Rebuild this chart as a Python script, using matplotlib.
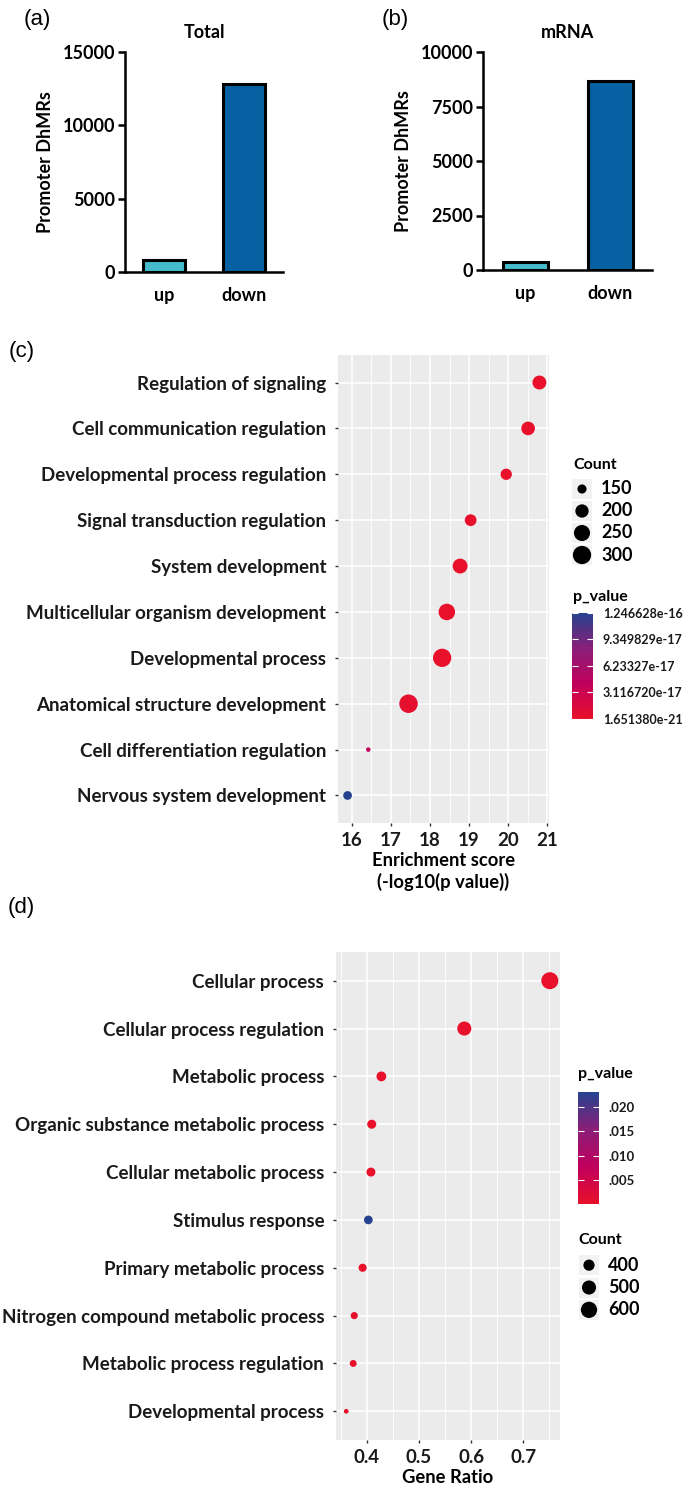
import matplotlib
matplotlib.use('Agg')
import matplotlib.pyplot as plt
import numpy as np
from matplotlib.colors import LinearSegmentedColormap, Normalize
from matplotlib.ticker import MultipleLocator

# ---- panels a/b data
bar_groups = ['up', 'down']
total_vals = [820, 12850]
mrna_vals = [370, 8650]

# ---- panel c data (GO terms by enrichment score)
c_terms = ['Regulation of signaling', 'Cell communication regulation',
           'Developmental process regulation', 'Signal transduction regulation',
           'System development', 'Multicellular organism development',
           'Developmental process', 'Anatomical structure development',
           'Cell differentiation regulation', 'Nervous system development']
c_score = [20.80, 20.51, 19.95, 19.04, 18.77, 18.43, 18.31, 17.45, 16.42, 15.89]
c_count = [210, 205, 172, 178, 227, 259, 300, 305, 131, 147]
c_pval = [1.651380e-21, 3.1e-21, 1.1e-20, 9.1e-20, 1.7e-19, 3.7e-19,
          4.9e-19, 3.5e-18, 3.8e-17, 1.246628e-16]
c_cbar_ticks = [1.651380e-21, 3.116720e-17, 6.23327e-17, 9.349829e-17, 1.246628e-16]
c_cbar_labels = ['1.651380e-21', '3.116720e-17', '6.23327e-17', '9.349829e-17', '1.246628e-16']
c_leg_counts = [150, 200, 250, 300]

# ---- panel d data (GO terms by gene ratio)
d_terms = ['Cellular process', 'Cellular process regulation', 'Metabolic process',
           'Organic substance metabolic process', 'Cellular metabolic process',
           'Stimulus response', 'Primary metabolic process',
           'Nitrogen compound metabolic process', 'Metabolic process regulation',
           'Developmental process']
d_ratio = [0.751, 0.587, 0.428, 0.4095, 0.408, 0.403, 0.392, 0.376, 0.374, 0.3606]
d_count = [638, 499, 364, 348, 347, 342, 333, 320, 318, 307]
d_pval = [1e-6, 2e-6, 5e-5, 8e-5, 9e-5, 0.0231, 1.2e-4, 2e-4, 2.5e-4, 3e-4]
d_cbar_ticks = [0.005, 0.010, 0.015, 0.020]
d_cbar_labels = ['.005', '.010', '.015', '.020']
d_leg_counts = [400, 500, 600]

plt.rcParams['font.family'] = ['Lato', 'DejaVu Sans']
plt.rcParams['font.weight'] = 'bold'

W, H = 684, 1490
fig = plt.figure(figsize=(W / 100, H / 100), dpi=100)


def px_axes(l, t, r, b):
    return fig.add_axes([l / W, 1 - b / H, (r - l) / W, (b - t) / H])


def size_map(counts, cmin, cmax, dmin, dmax):
    t = np.sqrt(np.clip((np.asarray(counts) - cmin) / (cmax - cmin), 0, 1))
    d = dmin + (dmax - dmin) * t
    return (d * 0.72) ** 2


cmap = LinearSegmentedColormap.from_list('pv', ['#E8102A', '#C0005C', '#8A1E78', '#25428F'])


def bar_panel(ax, vals, ylim, yticks, title, xlim):
    ax.bar(range(len(vals)), vals, width=0.53, color=['#45BCCB', '#0661A2'],
           edgecolor='black', linewidth=2.2, zorder=3)
    ax.set_xlim(*xlim)
    ax.set_ylim(0, ylim)
    ax.set_yticks(yticks)
    ax.set_xticks(range(len(vals)))
    ax.set_xticklabels(bar_groups)
    for s in ['top', 'right']:
        ax.spines[s].set_visible(False)
    for s in ['left', 'bottom']:
        ax.spines[s].set_linewidth(1.8)
    ax.tick_params(axis='y', length=5, width=1.8, labelsize=13, pad=2)
    ax.tick_params(axis='x', length=0, labelsize=13, pad=11)
    ax.set_ylabel('Promoter DhMRs', fontsize=13, fontweight='bold', labelpad=6)
    ax.set_title(title, fontsize=13, fontweight='bold', pad=10)


ax_a = px_axes(125, 52, 283, 272)
bar_panel(ax_a, total_vals, 15000, [0, 5000, 10000, 15000], 'Total', (-0.4875, 1.4875))
ax_b = px_axes(483, 52, 652, 270)
bar_panel(ax_b, mrna_vals, 10000, [0, 2500, 5000, 7500, 10000], 'mRNA', (-0.5, 1.49))


def dot_panel(ax, terms, xv, counts, pv, norm, smin, smax, drange, xlim, major, minor, xlabel):
    n = len(terms)
    ax.set_facecolor('#EBEBEB')
    ax.scatter(xv, range(n), s=size_map(counts, smin, smax, *drange),
               c=pv, cmap=cmap, norm=norm, zorder=3, linewidths=0)
    ax.set_yticks(range(n))
    ax.set_yticklabels(terms)
    ax.set_ylim(n - 1 + 0.6, -0.6)
    ax.set_xlim(*xlim)
    ax.xaxis.set_major_locator(MultipleLocator(major))
    ax.xaxis.set_minor_locator(MultipleLocator(minor))
    ax.grid(which='major', color='white', linewidth=1.1, zorder=0)
    ax.grid(which='minor', axis='x', color='white', linewidth=0.6, zorder=0)
    ax.set_axisbelow(True)
    for s in ax.spines.values():
        s.set_visible(False)
    ax.tick_params(which='major', length=2.5, width=1, color='#333333',
                   labelcolor='#1A1A1A')
    ax.tick_params(which='minor', length=0)
    ax.tick_params(axis='y', labelsize=13.5, pad=6)
    ax.tick_params(axis='x', labelsize=13.5, pad=4)
    ax.set_xlabel(xlabel, fontsize=13.2, fontweight='bold', labelpad=2, linespacing=1.3)


c_drange = (4.5, 18.5)
d_drange = (4.7, 17.0)

ax_c = px_axes(338, 355, 549, 823)
norm_c = Normalize(min(c_pval), max(c_pval))
dot_panel(ax_c, c_terms, c_score, c_count, c_pval, norm_c, min(c_count), max(c_count),
          c_drange, (15.645, 21.045), 1, 0.5, 'Enrichment score\n(-log10(p value))')

ax_d = px_axes(336, 952, 560, 1440)
norm_d = Normalize(0, max(d_pval))
dot_panel(ax_d, d_terms, d_ratio, d_count, d_pval, norm_d, min(d_count), max(d_count),
          d_drange, (0.341, 0.7705), 0.1, 0.05, 'Gene Ratio')
ax_d.set_xticks([0.4, 0.5, 0.6, 0.7])


def colorbar(cax_box, norm, ticks, labels, title_xy, lsize):
    cax = px_axes(*cax_box)
    cb = fig.colorbar(plt.cm.ScalarMappable(norm=norm, cmap=cmap), cax=cax)
    cb.outline.set_visible(False)
    cb.set_ticks(ticks)
    cb.set_ticklabels(labels)
    cax.tick_params(direction='in', length=4, width=0.8, color='white',
                    left=True, right=True, labelsize=lsize, pad=7, labelcolor='#1A1A1A')
    fig.text(title_xy[0] / W, 1 - title_xy[1] / H, 'p_value', fontsize=11.5,
             fontweight='bold', va='center', ha='left')


def count_legend(box, counts, smin, smax, drange, title_xy, lab_dx):
    lax = px_axes(*box)
    lax.set_xlim(0, box[2] - box[0])
    n = len(counts)
    lax.set_ylim(n - 0.5, -0.5)
    lax.axis('off')
    lax.scatter([10] * n, range(n), s=(20 * 0.72) ** 2, marker='s', color='#F2F2F2',
                linewidths=0)
    lax.scatter([10] * n, range(n), s=size_map(counts, smin, smax, *drange), color='black',
                linewidths=0)
    for i, c in enumerate(counts):
        lax.text(lab_dx, i, str(c), fontsize=13, fontweight='bold', va='center',
                 ha='left')
    fig.text(title_xy[0] / W, 1 - title_xy[1] / H, 'Count', fontsize=11.5,
             fontweight='bold', va='center', ha='left')


colorbar((572, 613, 593, 719), norm_c, c_cbar_ticks, c_cbar_labels, (573, 597), 9)
count_legend((572, 478, 660, 566), c_leg_counts, min(c_count), max(c_count),
             c_drange, (573, 465), 29)

colorbar((578, 1092, 599, 1204), norm_d, d_cbar_ticks, d_cbar_labels, (578, 1074), 9.5)
count_legend((579, 1254, 670, 1321), d_leg_counts, min(d_count), max(d_count),
             d_drange, (578, 1240), 29)

for lab, x, y in [('(a)', 24, 20), ('(b)', 382, 20), ('(c)', 9, 352), ('(d)', 8, 908)]:
    fig.text(x / W, 1 - y / H, lab, fontsize=16, fontweight='normal',
             family=['Liberation Sans', 'DejaVu Sans'], va='center', ha='left')

fig.savefig('out.png', dpi=100)
